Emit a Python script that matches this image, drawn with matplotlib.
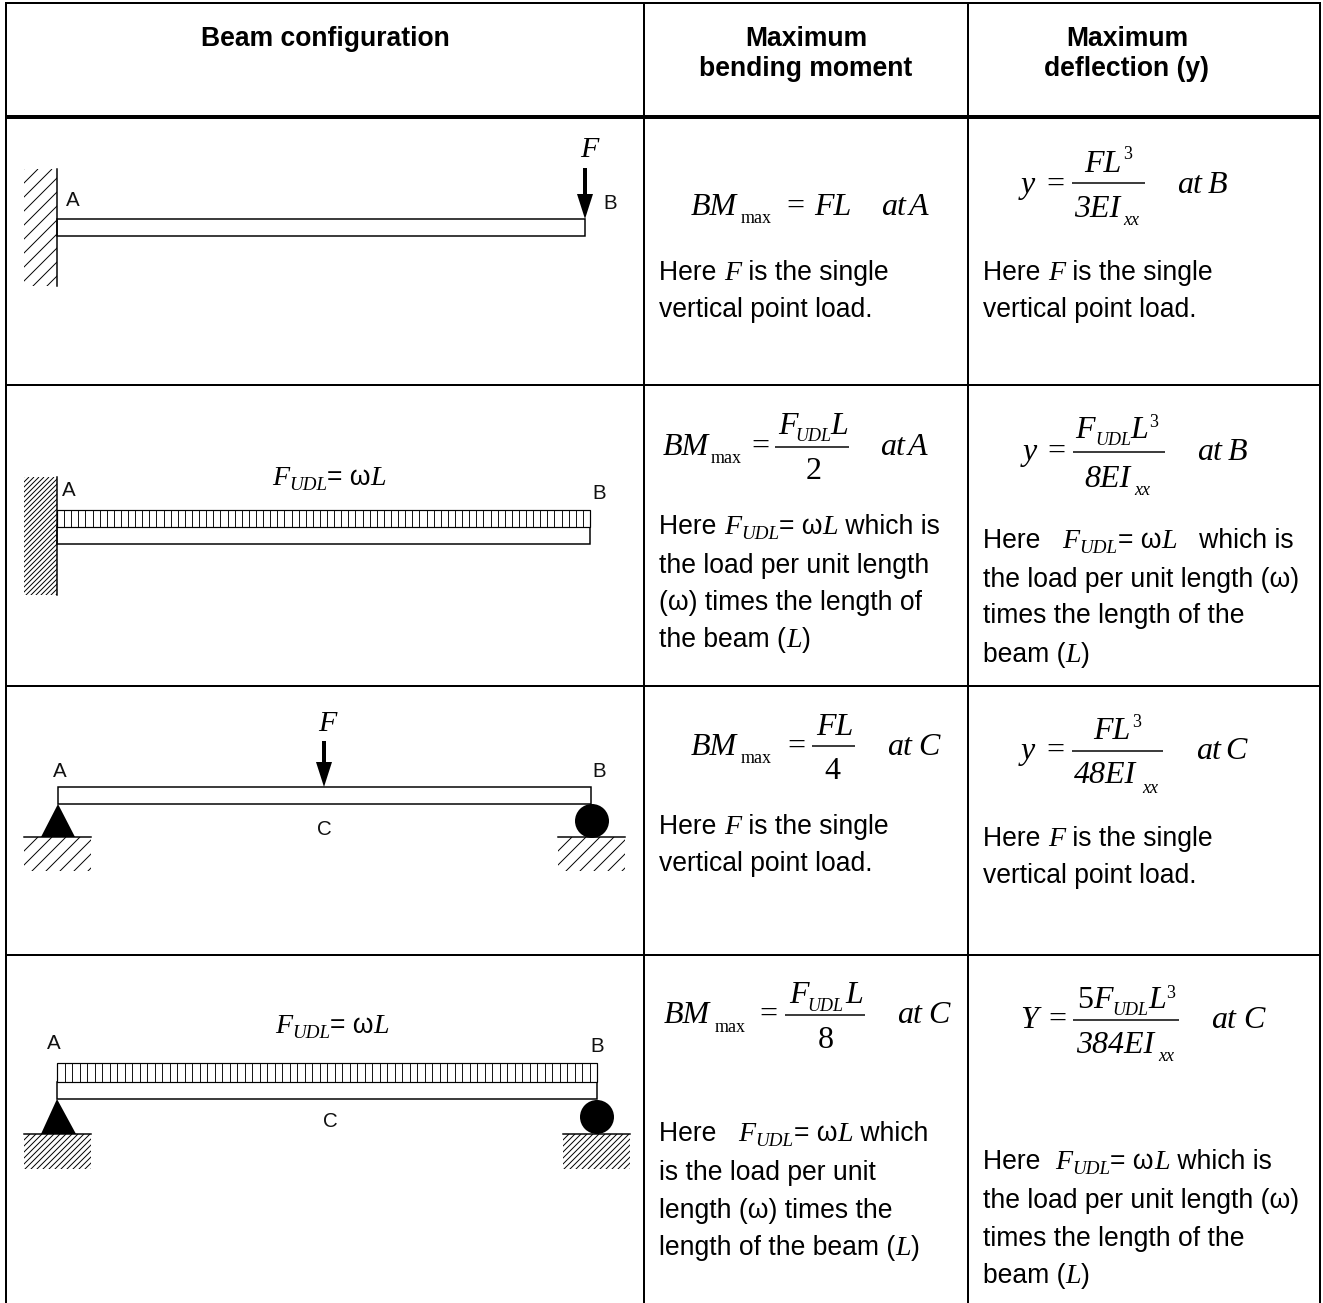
import numpy as np
import matplotlib
matplotlib.use("Agg")
import matplotlib.pyplot as plt
from matplotlib.collections import LineCollection
from matplotlib.patches import Rectangle, Polygon, Ellipse

W, H = 1323, 1303
SANS = "Liberation Sans"
SERIF = "Liberation Serif"
PX = 72 / 100
M, S = 32, 18  # formula main and script sizes in pixels

headers = [("Beam configuration", 325, 46), ("Maximum", 806, 46), ("bending moment", 806, 76),
           ("Maximum", 1127, 46), ("deflection (y)", 1127, 76)]

# segment kinds: s sans, i serif italic, u subscript italic
F_UDL = [("F", "i"), ("UDL", "u"), ("= ω", "s"), ("L", "i")]
body = [
    (659, 280, [("Here ", "s"), ("F", "i"), (" is the single", "s")]),
    (659, 317, [("vertical point load.", "s")]),
    (983, 280, [("Here ", "s"), ("F", "i"), (" is the single", "s")]),
    (983, 317, [("vertical point load.", "s")]),
    (659, 534, [("Here ", "s")] + F_UDL + [(" which is", "s")]),
    (659, 573, [("the load per unit length", "s")]),
    (659, 610, [("(ω) times the length of", "s")]),
    (659, 647, [("the beam (", "s"), ("L", "i"), (")", "s")]),
    (983, 548, [("Here   ", "s")] + F_UDL + [("   which is", "s")]),
    (983, 587, [("the load per unit length (ω)", "s")]),
    (983, 623, [("times the length of the", "s")]),
    (983, 662, [("beam (", "s"), ("L", "i"), (")", "s")]),
    (659, 834, [("Here ", "s"), ("F", "i"), (" is the single", "s")]),
    (659, 871, [("vertical point load.", "s")]),
    (983, 846, [("Here ", "s"), ("F", "i"), (" is the single", "s")]),
    (983, 883, [("vertical point load.", "s")]),
    (659, 1141, [("Here   ", "s")] + F_UDL + [(" which", "s")]),
    (659, 1180, [("is the load per unit", "s")]),
    (659, 1218, [("length (ω) times the", "s")]),
    (659, 1255, [("length of the beam (", "s"), ("L", "i"), (")", "s")]),
    (983, 1169, [("Here  ", "s")] + F_UDL + [(" which is", "s")]),
    (983, 1208, [("the load per unit length (ω)", "s")]),
    (983, 1246, [("times the length of the", "s")]),
    (983, 1283, [("beam (", "s"), ("L", "i"), (")", "s")]),
]
diagram_inline = [
    (272, 485, F_UDL),
    (275, 1033, F_UDL),
]
point_labels = [("A", 66, 206), ("B", 603, 209), ("A", 62, 496), ("B", 592, 499),
                ("A", 53, 777), ("B", 592, 777), ("C", 317, 835),
                ("A", 47, 1049), ("B", 590, 1052), ("C", 323, 1127)]
force_labels = [("F", 580, 157), ("F", 318, 731)]

# (x, baseline, text, size px, italic)
formula_text = [
    # row 1
    (691, 215, "BM", M, True), (741, 223, "max", S, False), (786, 215, "=", M, False),
    (814, 215, "FL", M, True), (881, 215, "at", M, True), (909, 215, "A", M, True),
    (1021, 193, "y", M, True), (1046, 193, "=", M, False), (1084, 172, "FL", M, True),
    (1123, 159, "3", S, False), (1074, 217, "3EI", M, True), (1123, 225, "xx", S, True),
    (1177, 193, "at", M, True), (1208, 193, "B", M, True),
    # row 2
    (663, 455, "BM", M, True), (711, 463, "max", S, False), (751, 455, "=", M, False),
    (778, 434, "F", M, True), (795, 441, "UDL", S, True), (830, 434, "L", M, True),
    (806, 479, "2", M, False), (880, 455, "at", M, True), (908, 455, "A", M, True),
    (1023, 460, "y", M, True), (1047, 460, "=", M, False), (1075, 438, "F", M, True),
    (1095, 445, "UDL", S, True), (1130, 438, "L", M, True), (1149, 427, "3", S, False),
    (1084, 487, "8EI", M, True), (1134, 495, "xx", S, True), (1197, 460, "at", M, True),
    (1228, 460, "B", M, True),
    # row 3
    (691, 755, "BM", M, True), (741, 763, "max", S, False), (787, 755, "=", M, False),
    (816, 735, "FL", M, True), (824, 779, "4", M, False), (887, 755, "at", M, True),
    (918, 755, "C", M, True),
    (1021, 759, "y", M, True), (1046, 759, "=", M, False), (1093, 739, "FL", M, True),
    (1132, 727, "3", S, False), (1074, 783, "48EI", M, True), (1142, 793, "xx", S, True),
    (1196, 759, "at", M, True), (1225, 759, "C", M, True),
    # row 4
    (664, 1023, "BM", M, True), (715, 1032, "max", S, False), (759, 1023, "=", M, False),
    (789, 1003, "F", M, True), (807, 1011, "UDL", S, True), (845, 1003, "L", M, True),
    (818, 1048, "8", M, False), (897, 1023, "at", M, True), (928, 1023, "C", M, True),
    (1020, 1028, "Y", M, True), (1048, 1028, "=", M, False), (1077, 1008, "5", M, False),
    (1093, 1008, "F", M, True), (1112, 1015, "UDL", S, True), (1148, 1008, "L", M, True),
    (1166, 998, "3", S, False), (1076, 1053, "384EI", M, True), (1158, 1061, "xx", S, True),
    (1211, 1028, "at", M, True), (1243, 1028, "C", M, True),
]
fraction_bars = [(1072, 1145, 183), (775, 849, 447), (1073, 1165, 452), (812, 855, 746),
                 (1072, 1163, 751), (785, 865, 1015), (1073, 1179, 1020)]

table_h = [(5, 1321, 3, 2), (5, 1321, 117, 4), (5, 1321, 385, 2), (5, 1321, 686, 2), (5, 1321, 955, 2)]
table_v = [6, 644, 968, 1320]

beams = [(57, 585, 219, 236), (57, 590, 527, 544), (58, 591, 787, 804), (57, 597, 1082, 1099)]
udl_blocks = [(57, 590, 510, 527, 75), (57, 597, 1063, 1082, 72)]
arrows = [(585, 168, 194, 219), (324, 741, 762, 787)]
walls = [(57, 169, 286, 33, 14), (57, 477, 595, 33, 5)]
grounds = [(24, 91, 837, 871, 14), (558, 625, 837, 871, 14), (24, 91, 1134, 1169, 6), (563, 630, 1134, 1169, 6)]
triangles = [(58, 804, 41, 75, 837), (57, 1099, 41, 76, 1134)]
rollers = [(592, 821, 17), (597, 1117, 17)]

fig = plt.figure(figsize=(W / 100, H / 100), dpi=100)
ax = fig.add_axes([0, 0, 1, 1])
ax.set_xlim(0, W)
ax.set_ylim(H, 0)
ax.axis("off")
renderer = fig.canvas.get_renderer()


def font_of(kind):
    if kind == "s":
        return dict(family=SANS, size=26.5 * PX, style="normal")
    if kind == "i":
        return dict(family=SERIF, size=28 * PX, style="italic")
    return dict(family=SERIF, size=19 * PX, style="italic")


def width(text, **kw):
    a = ax.text(0, 0, "|" + text + "|", **kw)
    b = ax.text(0, 0, "||", **kw)
    w = a.get_window_extent(renderer).width - b.get_window_extent(renderer).width
    a.remove()
    b.remove()
    return w


def rich(x, y, segs):
    for text, kind in segs:
        kw = font_of(kind)
        dy = 5 if kind == "u" else 0
        ax.text(x, y + dy, text, va="baseline", ha="left", color="black", **kw)
        x += width(text, **kw)


def hatch(x0, x1, y0, y1, step):
    clip = Rectangle((x0, y0), x1 - x0, y1 - y0, transform=ax.transData)
    span = (x1 - x0) + (y1 - y0)
    offs = np.arange(0, span + step, step)
    segs = [[(x0 + o, y0), (x0 + o - (y1 - y0) - 5, y1 + 5)] for o in offs]
    lc = LineCollection(segs, colors="black", linewidths=0.7)
    ax.add_collection(lc)
    lc.set_clip_path(clip)


for x0, x1, y, lw in table_h:
    ax.plot([x0, x1], [y, y], color="black", lw=lw * PX, solid_capstyle="butt")
for x in table_v:
    ax.plot([x, x], [2, H], color="black", lw=2 * PX, solid_capstyle="butt")

for text, x, y in headers:
    ax.text(x, y, text, ha="center", va="baseline", family=SANS, weight="bold", size=26.5 * PX)
for x, y, segs in body + diagram_inline:
    rich(x, y, segs)
for text, x, y in point_labels:
    ax.text(x, y, text, family=SANS, size=20.5 * PX, va="baseline", color="#111111")
for text, x, y in force_labels:
    ax.text(x, y, text, family=SERIF, style="italic", size=30 * PX, va="baseline")
for x, y, text, size, ital in formula_text:
    ax.text(x, y, text, family=SERIF, style="italic" if ital else "normal", size=size * PX, va="baseline")
for x0, x1, y in fraction_bars:
    ax.plot([x0, x1], [y, y], color="black", lw=1.5 * PX, solid_capstyle="butt")

for x0, x1, y0, y1 in beams:
    ax.add_patch(Rectangle((x0, y0), x1 - x0, y1 - y0, fc="white", ec="black", lw=1.5 * PX))
for x0, x1, y0, y1, n in udl_blocks:
    ax.add_patch(Rectangle((x0, y0), x1 - x0, y1 - y0, fc="white", ec="black", lw=1.2 * PX))
    ax.vlines(np.linspace(x0, x1, n + 1), y0, y1, colors="black", lw=0.9 * PX)
for x, top, neck, tip in arrows:
    ax.plot([x, x], [top, neck], color="black", lw=4 * PX, solid_capstyle="butt")
    ax.add_patch(Polygon([(x - 8, neck), (x + 8, neck), (x, tip)], fc="black", ec="none"))
for x, y0, y1, d, step in walls:
    hatch(x - d, x, y0, y1, step)
    ax.plot([x, x], [y0, y1], color="black", lw=1.5 * PX)
for x0, x1, y0, y1, step in grounds:
    hatch(x0, x1, y0, y1, step)
    ax.plot([x0, x1], [y0, y0], color="black", lw=1.5 * PX)
for xa, ya, xl, xr, yb in triangles:
    ax.add_patch(Polygon([(xa, ya), (xl, yb), (xr, yb)], fc="black", ec="none"))
for x, y, r in rollers:
    ax.add_patch(Ellipse((x, y), 2 * r, 2 * r, fc="black", ec="none"))

fig.savefig("out.png", dpi=100, facecolor="white")
